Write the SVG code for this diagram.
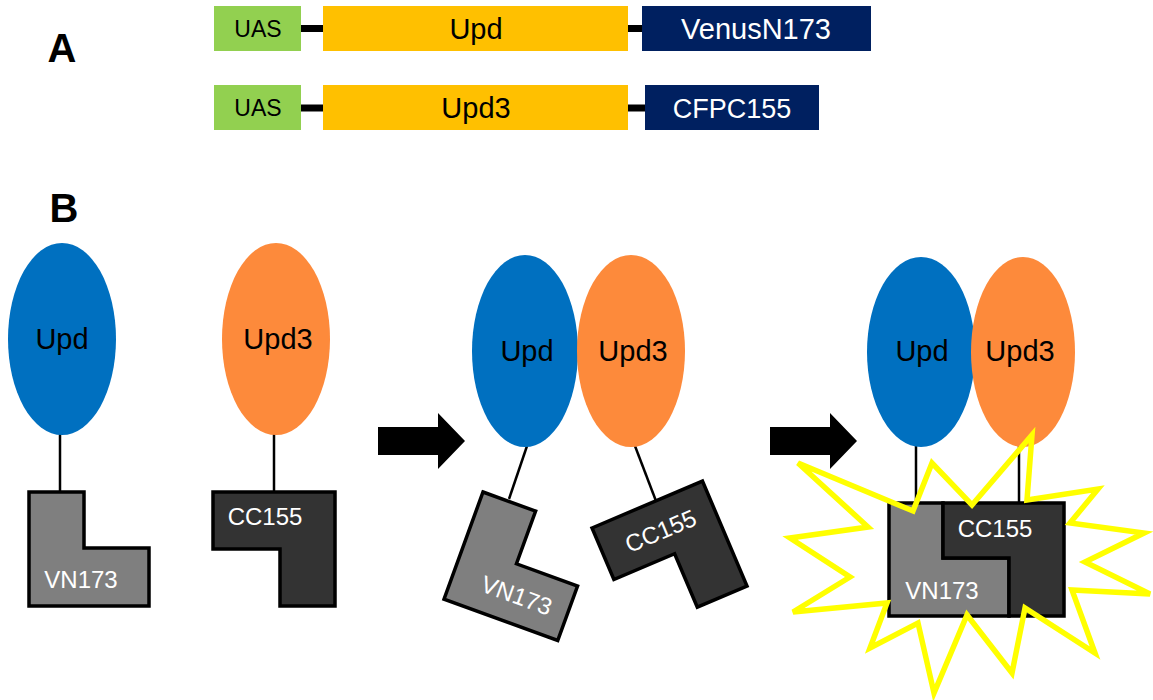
<svg xmlns="http://www.w3.org/2000/svg" width="1153" height="700" viewBox="0 0 1153 700">
<style>
text{font-family:"Liberation Sans",Arial,sans-serif;text-anchor:middle}
.lbl{font-weight:bold;font-size:40px;fill:#000}
.dk{fill:#000}
.wt{fill:#fff}
.uas{fill:#92D050}
.gene{fill:#FFC000}
.tag{fill:#002060}
.bar{stroke:#000;stroke-width:7}
.blue{fill:#0070C0}
.orange{fill:#FD8A3B}
.tether{stroke:#000;stroke-width:2.5}
.vn{fill:#7F7F7F;stroke:#000;stroke-width:3.5;stroke-linejoin:miter}
.cc{fill:#333333;stroke:#000;stroke-width:3.5;stroke-linejoin:miter}
.arrow{fill:#000}
.burst{fill:none;stroke:#FFFF00;stroke-width:5.5;stroke-linejoin:miter}
</style>

<text class="lbl" x="62" y="62">A</text>
<text class="lbl" x="64" y="222">B</text>

<g id="connectors">
  <line class="bar" x1="301" y1="28.5" x2="323" y2="28.5"/>
  <line class="bar" x1="628" y1="28.5" x2="642" y2="28.5"/>
  <line class="bar" x1="301" y1="108" x2="323" y2="108"/>
  <line class="bar" x1="628" y1="108" x2="645" y2="108"/>
  <line class="tether" x1="60" y1="434" x2="60" y2="492"/>
  <line class="tether" x1="274" y1="434" x2="274" y2="492"/>
  <line class="tether" x1="527" y1="446" x2="509" y2="499"/>
  <line class="tether" x1="635" y1="446" x2="656" y2="501"/>
  <line class="tether" x1="916" y1="446" x2="916" y2="503"/>
  <line class="tether" x1="1019" y1="446" x2="1019" y2="503"/>
  <polygon id="arrow1" class="arrow" points="378,427 438,427 438,413 465,441 438,469 438,455 378,455"/>
  <polygon id="arrow2" class="arrow" points="770,427 830,427 830,413 857,441 830,469 830,455 770,455"/>
</g>

<g id="row1-uas"><rect class="uas" x="214" y="6" width="87" height="45"/><text class="dk" x="258" y="37" font-size="23">UAS</text></g>
<g id="row1-upd"><rect class="gene" x="323" y="6" width="305" height="45"/><text class="dk" x="476" y="39" font-size="29">Upd</text></g>
<g id="row1-venus"><rect class="tag" x="642" y="6" width="229" height="45"/><text class="wt" x="756" y="39" font-size="29">VenusN173</text></g>

<g id="row2-uas"><rect class="uas" x="214" y="85" width="87" height="45"/><text class="dk" x="258" y="116" font-size="23">UAS</text></g>
<g id="row2-upd3"><rect class="gene" x="323" y="85" width="305" height="45"/><text class="dk" x="476" y="118" font-size="29">Upd3</text></g>
<g id="row2-cfp"><rect class="tag" x="645" y="85" width="174" height="45"/><text class="wt" x="732" y="118" font-size="27">CFPC155</text></g>

<g id="upd-1"><ellipse class="blue" cx="62" cy="339" rx="54" ry="96"/><text class="dk" x="62" y="349" font-size="29">Upd</text></g>
<g id="vn173-1"><path class="vn" d="M29,492 H84 V548 H149 V606 H29 Z"/><text class="wt" x="81" y="588" font-size="24">VN173</text></g>

<g id="upd3-1"><ellipse class="orange" cx="276" cy="339" rx="54" ry="96"/><text class="dk" x="278" y="349" font-size="29">Upd3</text></g>
<g id="cc155-1"><path class="cc" d="M213,492 H335 V606 H280 V549 H213 Z"/><text class="wt" x="265" y="525" font-size="24">CC155</text></g>

<g id="upd-2"><ellipse class="blue" cx="525" cy="351" rx="53" ry="96"/><text class="dk" x="527" y="361" font-size="29">Upd</text></g>
<g id="upd3-2"><ellipse class="orange" cx="631" cy="351" rx="54" ry="96"/><text class="dk" x="633" y="361" font-size="29">Upd3</text></g>
<g id="vn173-2" transform="translate(483,492) rotate(20)"><path class="vn" d="M0,0 H56 V56 H121 V114 H0 Z"/><text class="wt" x="67" y="94" font-size="24">VN173</text></g>
<g id="cc155-2" transform="translate(592,528) rotate(-23)"><path class="cc" d="M0,0 H120 V114 H66 V56 H0 Z"/><text class="wt" x="62" y="38" font-size="24">CC155</text></g>

<g id="upd-3"><ellipse class="blue" cx="921" cy="352" rx="54" ry="95"/><text class="dk" x="922" y="361" font-size="29">Upd</text></g>
<g id="upd3-3"><ellipse class="orange" cx="1023" cy="352" rx="52" ry="95"/><text class="dk" x="1020" y="361" font-size="29">Upd3</text></g>
<g id="complex">
  <path class="vn" d="M889,503 H943 V558 H1009 V616 H889 Z"/>
  <path class="cc" d="M943,503 H1064 V616 H1009 V558 H943 Z"/>
  <text class="wt" x="995" y="537" font-size="24">CC155</text>
  <text class="wt" x="942" y="599" font-size="24">VN173</text>
</g>
<g id="burst">
  <polygon class="burst" points="798,463 913,511 932,463 972,505 1032,435 1027,500 1098,489 1070,523 1144,533 1085,562 1150,594 1072,590 1095,653 1025,608 1012,673 967,615 934,693 918,623 870,648 887,603 793,612 850,577 790,538 868,527"/>
</g>
</svg>
